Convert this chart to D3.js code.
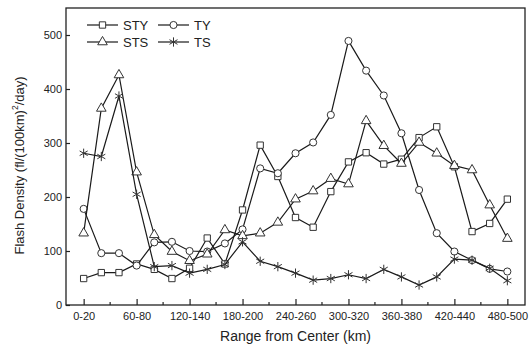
<!DOCTYPE html>
<html>
<head>
<meta charset="utf-8">
<script src="https://cdn.jsdelivr.net/npm/d3@7"></script>
<style>
  body { margin: 0; background: #fff; }
  svg text { font-family: "Liberation Sans", Arial, sans-serif; fill: #222; }
</style>
</head>
<body>
<div id="graf"></div>
<script>
// I. Datos
rangos = ['0-20', '20-40', '40-60', '60-80', '80-100', '100-120', '120-140', '140-160',
          '160-180', '180-200', '200-220', '220-240', '240-260', '260-280', '280-300',
          '300-320', '320-340', '340-360', '360-380', '380-400', '400-420', '420-440',
          '440-460', '460-480', '480-500']

sty = [49, 60, 60, 76, 66, 49, 68, 124, 76, 176, 296, 238, 162, 144, 210, 265, 282, 261, 270, 310, 330, 256, 136, 151, 196]
ty  = [178, 96, 96, 73, 116, 117, 100, 99, 114, 140, 253, 244, 281, 301, 352, 489, 434, 388, 318, 213, 133, 99, 83, 67, 62]
sts = [133, 364, 426, 246, 130, 99, 82, 94, 139, 128, 133, 153, 196, 211, 234, 224, 341, 295, 262, 301, 281, 258, 250, 185, 123]
ts  = [281, 275, 387, 205, 71, 73, 59, 66, 75, 117, 81, 71, 59, 46, 49, 56, 49, 66, 52, 37, 52, 85, 83, 68, 45]

nombres = ['STY', 'TY', 'STS', 'TS']
simbolos = [d3.symbolSquare, d3.symbolCircle, d3.symbolTriangle, d3.symbolAsterisk]
ticksY = [0, 100, 200, 300, 400, 500]

series = [sty, ty, sts, ts].map((vals, k) => ({
  nombre: nombres[k],
  simbolo: simbolos[k],
  valores: vals.map((v, i) => ({ rango: rangos[i], v: v }))
}))

// II. Configuración
ancho_total = 529
alto_total = 345
margins = { top: 8, left: 66, right: 4, bottom: 40 }

svg = d3.select('#graf').append('svg')
        .attr('width', ancho_total)
        .attr('height', alto_total)

x = d3.scalePoint()
      .domain(rangos)
      .range([margins.left, ancho_total - margins.right])
      .padding(1)

y = d3.scaleLinear()
      .domain([0, 550])
      .range([alto_total - margins.bottom, margins.top])

// marco
svg.append('rect')
   .attr('x', margins.left)
   .attr('y', margins.top)
   .attr('width', ancho_total - margins.right - margins.left)
   .attr('height', alto_total - margins.bottom - margins.top)
   .attr('fill', 'none')
   .attr('stroke', '#222')
   .attr('stroke-width', 1.3)

// ejes
xAxisCall = d3.axisBottom(x)
              .tickValues(rangos.filter((d, i) => i % 3 == 0))
              .tickSizeInner(-6)
              .tickSizeOuter(0)
              .tickPadding(7)
xAxisGroup = svg.append('g')
                .attr('transform', `translate(0, ${y(0)})`)
                .call(xAxisCall)

yAxisCall = d3.axisLeft(y)
              .tickValues(ticksY)
              .tickSizeInner(-4)
              .tickSizeOuter(0)
              .tickPadding(4)
yAxisGroup = svg.append('g')
                .attr('transform', `translate(${margins.left}, 0)`)
                .call(yAxisCall)

svg.selectAll('.domain').remove()
svg.selectAll('.tick line').attr('stroke', '#222').attr('stroke-width', 1.2)
svg.selectAll('.tick text').attr('font-size', 11).style('fill', '#222')

// ticks menores del eje x
menores = rangos.filter((d, i) => i % 3 == 1 && i < rangos.length - 1)
svg.append('g').selectAll('line')
   .data(menores)
   .enter().append('line')
     .attr('x1', d => x(d) + x.step() / 2)
     .attr('x2', d => x(d) + x.step() / 2)
     .attr('y1', y(0))
     .attr('y2', y(0) - 3)
     .attr('stroke', '#222')
     .attr('stroke-width', 1.2)

// títulos
svg.append('text')
   .attr('x', (margins.left + ancho_total - margins.right) / 2)
   .attr('y', 341)
   .attr('text-anchor', 'middle')
   .attr('font-size', 14)
   .text('Range from Center (km)')

tituloY = svg.append('text')
   .attr('transform', `translate(24, ${(margins.top + y(0)) / 2 + 9}) rotate(-90)`)
   .attr('text-anchor', 'middle')
   .attr('font-size', 13)
tituloY.append('tspan').text('Flash Density (fl/(100km)')
tituloY.append('tspan').attr('font-size', 8.5).attr('dy', -6).text('2')
tituloY.append('tspan').attr('dy', 6).text('/day)')

// III. Series
linea = d3.line()
          .x(d => x(d.rango))
          .y(d => y(d.v))

grupos = svg.selectAll('.serie')
            .data(series)
            .enter().append('g')
            .attr('class', 'serie')

grupos.append('path')
      .attr('d', d => linea(d.valores))
      .attr('fill', 'none')
      .attr('stroke', '#1a1a1a')
      .attr('stroke-width', 1.2)

grupos.each(function(s) {
  d3.select(this).selectAll('path.marca')
    .data(s.valores)
    .enter().append('path')
      .attr('class', 'marca')
      .attr('transform', d => `translate(${x(d.rango)}, ${y(d.v)})`)
      .attr('d', d3.symbol().type(s.simbolo).size(s.simbolo == d3.symbolAsterisk ? 60 : 40))
      .attr('fill', s.simbolo == d3.symbolAsterisk ? 'none' : '#fff')
      .attr('stroke', '#333')
      .attr('stroke-width', 1)
})

// IV. Leyenda
leyenda = svg.append('g').attr('transform', 'translate(87, 25)')
items = leyenda.selectAll('g')
               .data(series)
               .enter().append('g')
               .attr('transform', (d, i) => `translate(${(i % 2) * 71}, ${Math.floor(i / 2) * 17})`)
items.append('line')
     .attr('x1', 0).attr('x2', 31)
     .attr('stroke', '#1a1a1a').attr('stroke-width', 1.2)
items.append('path')
     .attr('transform', 'translate(15.5, 0)')
     .attr('d', d => d3.symbol().type(d.simbolo).size(d.simbolo == d3.symbolAsterisk ? 60 : 40)())
     .attr('fill', d => d.simbolo == d3.symbolAsterisk ? 'none' : '#fff')
     .attr('stroke', '#333')
items.append('text')
     .attr('x', 36)
     .attr('dy', '0.36em')
     .attr('font-size', 13)
     .text(d => d.nombre)
</script>
</body>
</html>
